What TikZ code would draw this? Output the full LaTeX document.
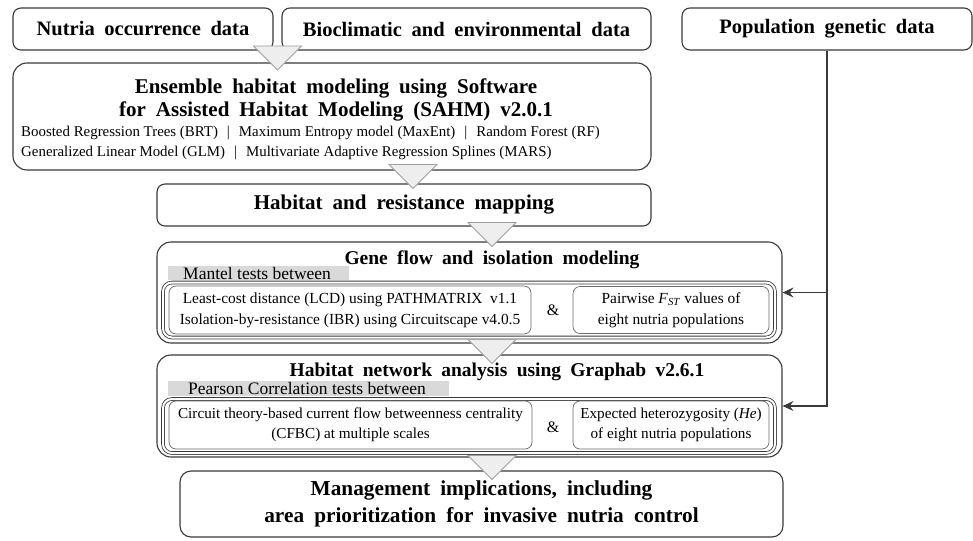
\documentclass[tikz,border=0pt]{standalone}
\usepackage{fontspec}
\setmainfont{Liberation Serif}
\newfontfamily\hdfont{Liberation Serif}[WordSpace=1.9]
\usetikzlibrary{arrows.meta,calc}
\definecolor{bordc}{HTML}{3A3A3A}
\definecolor{inbc}{HTML}{6A6A6A}
\definecolor{trif}{HTML}{EEEEEE}
\definecolor{trid}{HTML}{A0A0A0}
\definecolor{glab}{HTML}{D9D9D9}
\tikzset{
  box/.style={draw=bordc, line width=1.1pt, rounded corners=8pt, align=center, inner sep=0pt},
  bigbox/.style={box, rounded corners=14pt},
  head/.style={box, minimum height=42pt, font=\hdfont\bfseries\fontsize{20.5}{24}\selectfont},
  titletxt/.style={inner sep=0pt, align=center, font=\hdfont\bfseries\fontsize{20}{23}\selectfont},
  smalltxt/.style={inner sep=0pt, font=\fontsize{14.9}{20}\selectfont},
  inbox/.style={draw=inbc, line width=0.7pt, rounded corners=7pt, align=center, inner sep=0pt, font=\fontsize{15.4}{21}\selectfont},
  cont/.style={draw=bordc, line width=0.8pt, double=white, double distance=2pt, rounded corners=9pt, inner sep=0pt},
  glabel/.style={fill=glab, inner sep=0pt},
  labtxt/.style={inner sep=0pt, font=\fontsize{17.5}{20}\selectfont},
  amptxt/.style={inner sep=0pt, font=\fontsize{16}{20}\selectfont},
  tri/.style={fill=trif, draw=trid, line width=0.8pt, line join=miter},
  conn/.style={draw=bordc, line width=1.1pt},
  pics/blockarrow/.style={code={\draw[tri] (-24,0) -- (24,0) -- (0,24) -- cycle;}}
}
\begin{document}
\begin{tikzpicture}[x=1pt,y=-1pt]
\useasboundingbox (0,0) rectangle (973,540);
\fill[white] (0,0) rectangle (973,540);

% top row
\node[head, minimum width=260pt] (n1) at (143,29) {Nutria occurrence data};
\node[head, minimum width=369pt] (n2) at (466.5,29) {Bioclimatic and environmental data};
\node[head, minimum width=290pt] (n3) at (827,29) {Population genetic data};

% ensemble
\node[bigbox, minimum width=638pt, minimum height=107pt] (ens) at (332,116.5) {};
\node[titletxt, font=\hdfont\bfseries\fontsize{21}{23}\selectfont] (enst) at (336,100) {Ensemble habitat modeling using Software\\for Assisted Habitat Modeling (SAHM) v2.0.1};
\node[smalltxt, anchor=west, align=left] (enss) at (21,143) {Boosted Regression Trees (BRT)\hspace{9pt}|\hspace{9pt}Maximum Entropy model (MaxEnt)\hspace{9pt}|\hspace{9pt}Random Forest (RF)\\Generalized Linear Model (GLM)\hspace{9pt}|\hspace{9pt}Multivariate Adaptive Regression Splines (MARS)};

% habitat mapping
\node[head, minimum width=494pt, font=\hdfont\bfseries\fontsize{21}{24}\selectfont] (hab) at (404,205) {Habitat and resistance mapping};

% gene flow
\node[bigbox, minimum width=625pt, minimum height=101pt] (gene) at (469.5,292.5) {};
\node[titletxt, font=\hdfont\bfseries\fontsize{19.5}{23}\selectfont] (genet) at (492,260) {Gene flow and isolation modeling};
\node[glabel, minimum width=181pt, minimum height=14pt] (mantb) at (258.5,273) {};
\node[labtxt, anchor=base west] (mant) at (183,279) {Mantel tests between};
\node[cont, minimum width=612pt, minimum height=55pt] (gcont) at (469,310) {};
\node[inbox, minimum width=362pt, minimum height=48pt] (lcd) at (350,310) {Least-cost distance (LCD) using PATHMATRIX\ \ v1.1\\Isolation-by-resistance (IBR) using Circuitscape v4.0.5};
\node[amptxt] (amp1) at (553,310) {\&};
\node[inbox, minimum width=196pt, minimum height=47pt] (fst) at (671,310) {Pairwise \textit{F}\textsubscript{\textit{ST}} values of\\eight nutria populations};

% habitat network
\node[bigbox, minimum width=625pt, minimum height=102pt] (net) at (469.5,406) {};
\node[titletxt, font=\hdfont\bfseries\fontsize{19.5}{23}\selectfont] (nett) at (497,372) {Habitat network analysis using Graphab v2.6.1};
\node[glabel, minimum width=281pt, minimum height=15pt] (pearb) at (308.5,388.5) {};
\node[labtxt, anchor=base west] (pear) at (188,394) {Pearson Correlation tests between};
\node[cont, minimum width=612pt, minimum height=54pt] (ncont) at (469,426) {};
\node[inbox, minimum width=363pt, minimum height=48pt, font=\fontsize{15.2}{19.5}\selectfont] (cfbc) at (350.5,425) {Circuit theory-based current flow betweenness centrality\\(CFBC) at multiple scales};
\node[amptxt] (amp2) at (553,427) {\&};
\node[inbox, minimum width=196pt, minimum height=48pt, font=\fontsize{15.2}{19.5}\selectfont] (he) at (671,425) {Expected heterozygosity (\textit{He})\\of eight nutria populations};

% management
\node[box, rounded corners=11pt, minimum width=603pt, minimum height=66pt, font=\hdfont\bfseries\fontsize{21.3}{27}\selectfont] (mgmt) at (481.5,504) {Management implications, including\\area prioritization for invasive nutria control};

% population genetic connectors
\draw[conn, -{Stealth[length=11pt,width=10pt,inset=4pt]}] (n3.south) |- (net.east);
\draw[conn, -{Stealth[length=11pt,width=10pt,inset=4pt]}] (n3.south |- gene.east) -- (gene.east);

% block arrows
\pic at ($(n1.east)!0.5!(n2.west) + (0,17)$) {blockarrow};
\pic at ($(ens.south)+(81,-6)$) {blockarrow};
\pic at ($(hab.south)+(88,-4)$) {blockarrow};
\pic at ($(gene.south)+(22.5,-4)$) {blockarrow};
\pic at ($(net.south)+(22.5,-2)$) {blockarrow};
\end{tikzpicture}
\end{document}
